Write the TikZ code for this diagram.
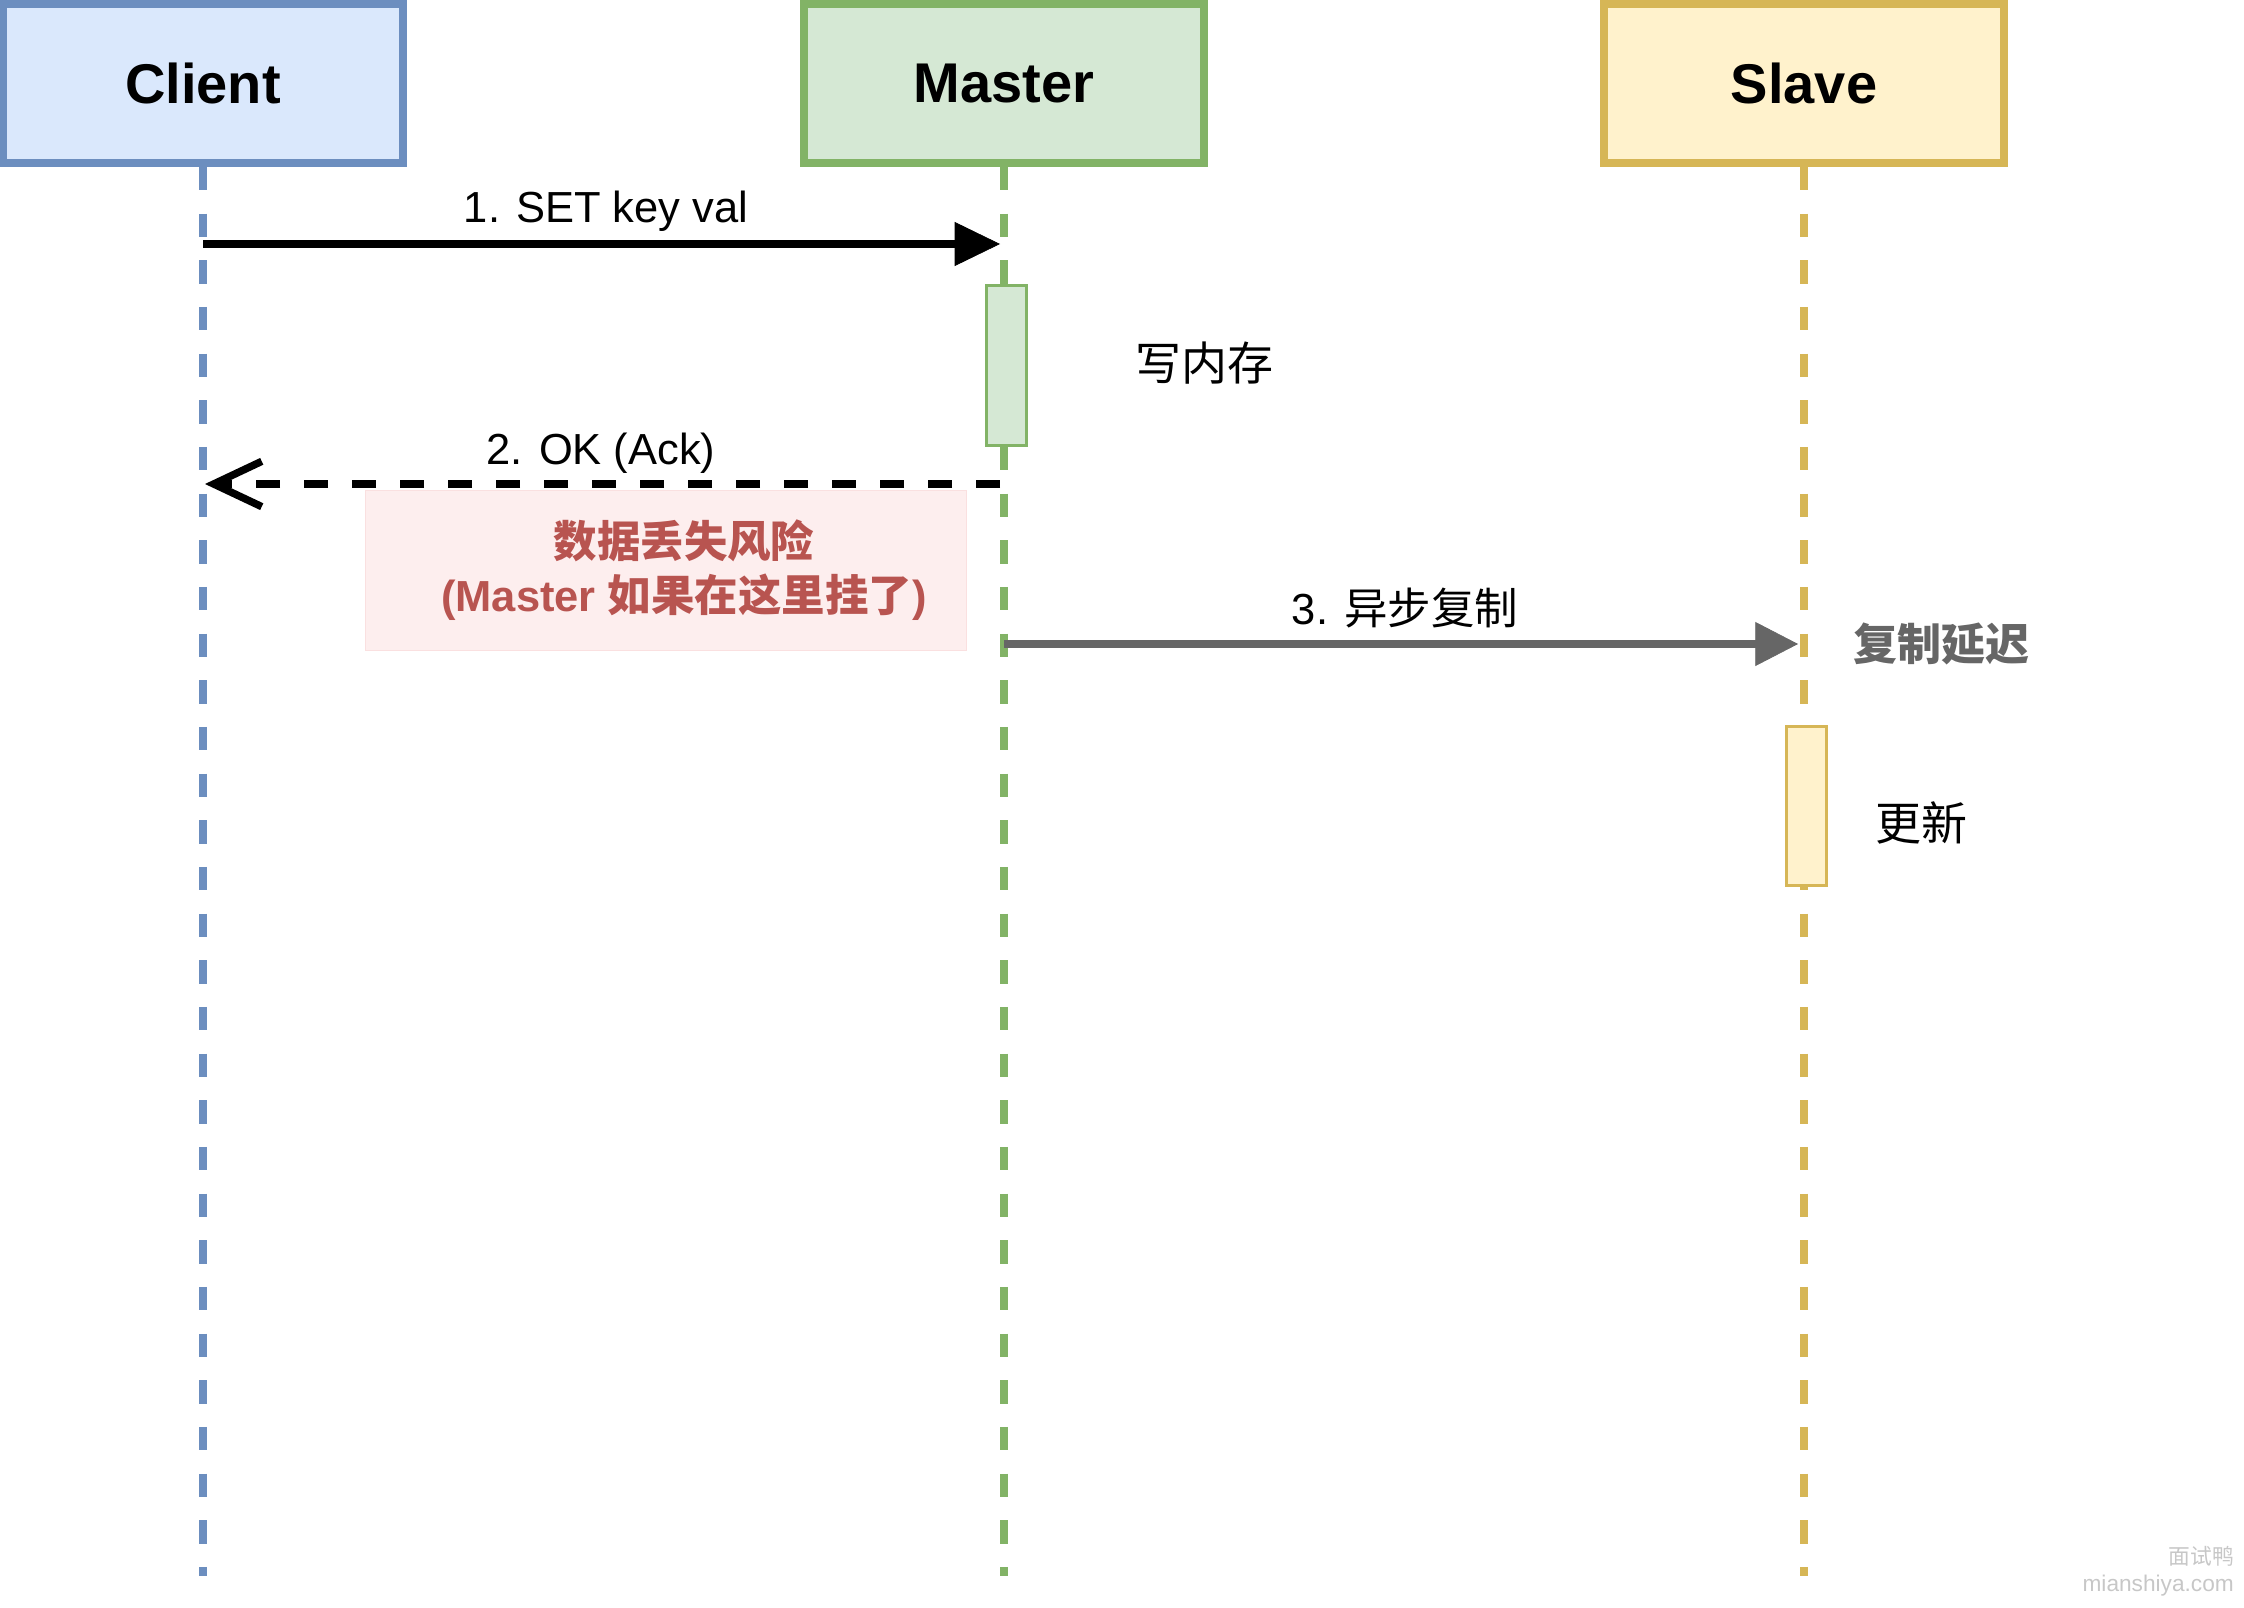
\documentclass[tikz,border=0pt]{standalone}
\usepackage{fontspec}
\setmainfont{Liberation Sans}
\newfontfamily\cjk{Noto Sans CJK SC}
\usepackage{tikz}
\usetikzlibrary{arrows.meta}
\definecolor{clientfill}{HTML}{DAE8FC}
\definecolor{clientline}{HTML}{6C8EBF}
\definecolor{masterfill}{HTML}{D5E8D4}
\definecolor{masterline}{HTML}{82B366}
\definecolor{slavefill}{HTML}{FFF2CC}
\definecolor{slaveline}{HTML}{D6B656}
\definecolor{riskfill}{HTML}{FDEEEE}
\definecolor{riskline}{HTML}{FAE0E0}
\definecolor{risktext}{HTML}{B85450}
\definecolor{replgray}{HTML}{666666}

\begin{document}
\begin{tikzpicture}[x=0.75pt,y=0.75pt,yscale=-1,xscale=1,
  actor/.style={draw, line width=5.6pt, minimum width=300pt, minimum height=119.5pt, inner sep=0pt, font=\fontsize{42}{50}\selectfont\bfseries},
  lifeline/.style={line width=5.8pt, dash pattern=on 17.5pt off 17.5pt},
  activation/.style={draw, line width=2.25pt, minimum width=30pt, minimum height=119.25pt, inner sep=0pt},
  msglabel/.style={inner sep=0pt, font=\fontsize{32.6}{39}\selectfont},
  note/.style={inner sep=0pt, font=\fontsize{34.5}{41}\selectfont\cjk}]
\useasboundingbox (0,0) rectangle (2244,1608);

% Actors
\node [actor, fill=clientfill, draw=clientline] (client) at (203,83.5) {Client};
\node [actor, fill=masterfill, draw=masterline] (master) at (1004,83.5) {Master};
\node [actor, fill=slavefill, draw=slaveline] (slave) at (1804,83.5) {Slave};

% Lifelines
\coordinate (clientend) at (203,1576);
\coordinate (masterend) at (1004,1576);
\coordinate (slaveend) at (1804,1576);
\draw [lifeline, clientline] (client.south) -- (clientend);
\draw [lifeline, masterline] (master.south) -- (masterend);
\draw [lifeline, slaveline] (slave.south) -- (slaveend);

% Activation bars
\node [activation, fill=masterfill, draw=masterline] (memwrite) at (1006,365.5) {};
\node [activation, fill=slavefill, draw=slaveline] (update) at (1806,805.5) {};

% Data loss note
\node [draw=riskline, fill=riskfill, line width=0.75pt, minimum width=450.75pt, minimum height=120pt, inner sep=0pt] (riskbox) at (665.5,570) {};
\node [msglabel, anchor=base, text=risktext, font=\fontsize{32.6}{39}\selectfont\bfseries] (risk1) at (684,557) {\cjk 数据丢失风险};
\node [msglabel, anchor=base, text=risktext, font=\fontsize{32.6}{39}\selectfont\bfseries] (risk2) at (684,611) {(Master {\cjk 如果在这里挂了})};

%Straight Lines: 1. SET
\draw [line width=6.4pt, shorten >=3pt, -{Triangle[length=34pt,width=33pt,line width=0.5pt]}] (client.south |- 0,244) -- (master.south |- 0,244);
% 2. OK (dashed return)
\draw [line width=5.6pt, dash pattern=on 18pt off 18pt, shorten <=3pt, shorten >=1.5pt, -{Straight Barb[length=36pt,width=34pt]}] (master.south |- 0,484) -- (client.south |- 0,484);
% 3. async replication
\draw [replgray, line width=5.6pt, shorten >=4.5pt, -{Triangle[length=32pt,width=33pt,line width=0.5pt]}] (master.south |- 0,644) -- (slave.south |- 0,644);

% Text Node
\node [msglabel, anchor=base] (setlbl) at (606,223) {1. SET key val};
\node [msglabel, anchor=base] (oklbl) at (601,464) {2. OK (Ack)};
\node [msglabel, anchor=base] (repllbl) at (1405,624) {3. {\cjk 异步复制}};
\node [note] (memlbl) at (1204,363.5) {写内存};
\node [note, text=replgray, font=\fontsize{33}{40}\selectfont\cjk\bfseries] (lagllbl) at (1941,644) {复制延迟};
\node [note] (updlbl) at (1921,823) {更新};

% Watermark
\node [inner sep=0pt, anchor=east, text=black!22, font=\fontsize{16.3}{20}\selectfont\cjk] (wm1) at (2234,1556) {面试鸭};
\node [inner sep=0pt, anchor=base east, text=black!22, font=\fontsize{17}{20}\selectfont] (wm2) at (2234,1591) {mianshiya.com};

\end{tikzpicture}
\end{document}
